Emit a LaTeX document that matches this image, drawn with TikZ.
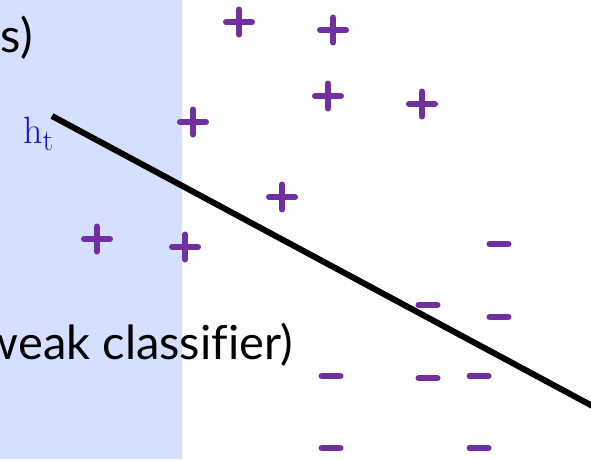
\documentclass[tikz,border=0pt]{standalone}
\usepackage{fontspec}
\setsansfont[Ligatures=NoCommon]{Lato}
\definecolor{bgblue}{HTML}{D5DFFF}
\definecolor{ptpurple}{HTML}{7030A0}
\definecolor{htblue}{RGB}{20,20,200}
\tikzset{
  mark stroke/.style={draw=ptpurple, line width=6pt, line cap=round},
  pics/plusmark/.style={code={\draw[mark stroke] (-13,0) -- (13,0) (0,-12.5) -- (0,12.5);}},
  pics/minusmark/.style={code={\draw[mark stroke] (-9.5,0) -- (9.5,0);}},
  bigtext/.style={inner sep=0pt, font=\sffamily\fontsize{47}{52}\selectfont, text=black},
}
\begin{document}
\begin{tikzpicture}[x=1pt,y=-1pt]
\useasboundingbox (0,0) rectangle (591,459);
\clip (0,0) rectangle (591,459);
\fill[bgblue] (0,0) rectangle (182,459);
% text
\node[bigtext, anchor=base east] (toptext) at (33,52) {s)};
\node[bigtext, anchor=base east] (weak) at (293,359) {weak classifier)};
\node[inner sep=0pt, anchor=base west, text=htblue, font=\rmfamily\fontsize{38}{40}\selectfont] (ht) at (23,143) {h\raisebox{-7pt}{\fontsize{30}{32}\selectfont t}};
% plus marks
\foreach \px/\py in {239/22, 333/30, 328/96, 422/104, 193/122, 282/197, 97/239, 185/247}
  \pic at (\px,\py) {plusmark};
% minus marks
\foreach \mx/\my in {499/244, 428/305, 499/317, 331/376, 428/378, 479/376, 331/448, 479/448}
  \pic at (\mx,\my) {minusmark};
% separating line
\coordinate (hs) at (52,116);
\coordinate (he) at (600,410);
\draw[line width=6pt, black] (hs) -- (he);
\end{tikzpicture}
\end{document}
